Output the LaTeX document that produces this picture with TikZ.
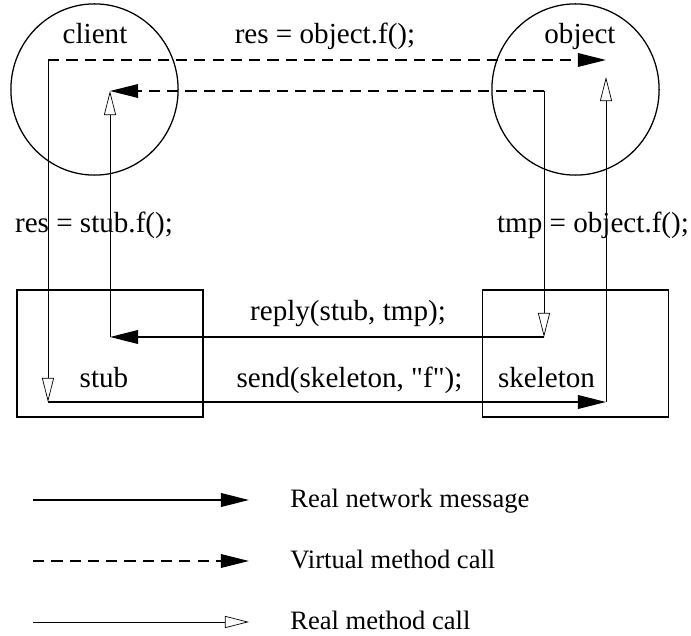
\documentclass[tikz,border=0pt]{standalone}
\usepackage{fontspec}
\newfontfamily\figfont{Liberation Serif}
\usetikzlibrary{
    positioning,
    shapes.geometric,
    arrows.meta
}

\begin{document}
\begin{tikzpicture}[
        x=0.025cm, y=-0.025cm,
        font=\figfont\fontsize{20.7}{22}\selectfont,
        every node/.style={inner sep=0pt},
        actor/.style={draw, ellipse, line width=0.9pt,
            minimum width=4.18cm, minimum height=4.28cm},
        proxy/.style={draw, rectangle, line width=0.9pt,
            minimum width=4.65cm, minimum height=3.18cm},
        lbl/.style={anchor=base},
        keytext/.style={anchor=base west, font=\figfont\fontsize{18.9}{20}\selectfont},
        netmsg/.style={line width=1.3pt, -{Triangle[length=0.7cm, width=0.34cm]}},
        virtcall/.style={line width=0.9pt, dash pattern=on 8pt off 5pt,
            -{Triangle[length=0.7cm, width=0.34cm]}},
        realcall/.style={line width=0.5pt,
            -{Triangle[open, length=0.6cm, width=0.3cm, line width=0.5pt]}}
    ]
    \useasboundingbox (0,0) rectangle (691,636);

    % objects and proxies
    \node[actor] (client) at (94.5,89.5) {};
    \node[actor] (object) at (575.5,89.5) {};
    \node[proxy] (stub) at (110,353.5) {};
    \node[proxy] (skeleton) at (575.5,353.5) {};

    % labels
    \node[lbl] (clientlbl) at (95,44) {client};
    \node[lbl] (objectlbl) at (580,44) {object};
    \node[lbl] (virtlbl) at (325,44) {res = object.f();};
    \node[lbl] (stubcall) at (94,233) {res = stub.f();};
    \node[lbl] (skelcall) at (593,233) {tmp = object.f();};
    \node[lbl] (replylbl) at (348,321) {reply(stub, tmp);};
    \node[lbl] (sendlbl) at (349.5,387) {send(skeleton, "f");};
    \node[lbl] (stublbl) at (104,387) {stub};
    \node[lbl] (skellbl) at (546.5,387) {skeleton};

    % corners of the call paths
    \coordinate (c1) at (48,60);
    \coordinate (c2) at (606,60);
    \coordinate (c3) at (48,402);
    \coordinate (c4) at (606,402);
    \coordinate (c5) at (606,77);
    \coordinate (r1) at (544,91);
    \coordinate (r2) at (110,91);
    \coordinate (r3) at (544,337);
    \coordinate (r4) at (110,337);

    % call there
    \draw[virtcall] (c1) -- (c2);
    \draw[realcall] (c1) -- (c3);
    \draw[netmsg] (c3) -- (c4);
    \draw[realcall] (c4) -- (c5);

    % and back
    \draw[virtcall] (r1) -- (r2);
    \draw[realcall] (r1) -- (r3);
    \draw[netmsg] (r3) -- (r4);
    \draw[realcall] (r4) -- (r2);

    % legend
    \coordinate (la) at (33,500);
    \coordinate (lb) at (249,500);
    \coordinate (lc) at (33,561);
    \coordinate (ld) at (249,561);
    \coordinate (le) at (33,622);
    \coordinate (lf) at (249,622);
    \draw[netmsg] (la) -- (lb);
    \draw[virtcall] (lc) -- (ld);
    \draw[realcall] (le) -- (lf);
    \node[keytext] (netkey) at (290,507) {Real network message};
    \node[keytext] (virtkey) at (290,568) {Virtual method call};
    \node[keytext] (realkey) at (290,629) {Real method call};
\end{tikzpicture}
\end{document}
